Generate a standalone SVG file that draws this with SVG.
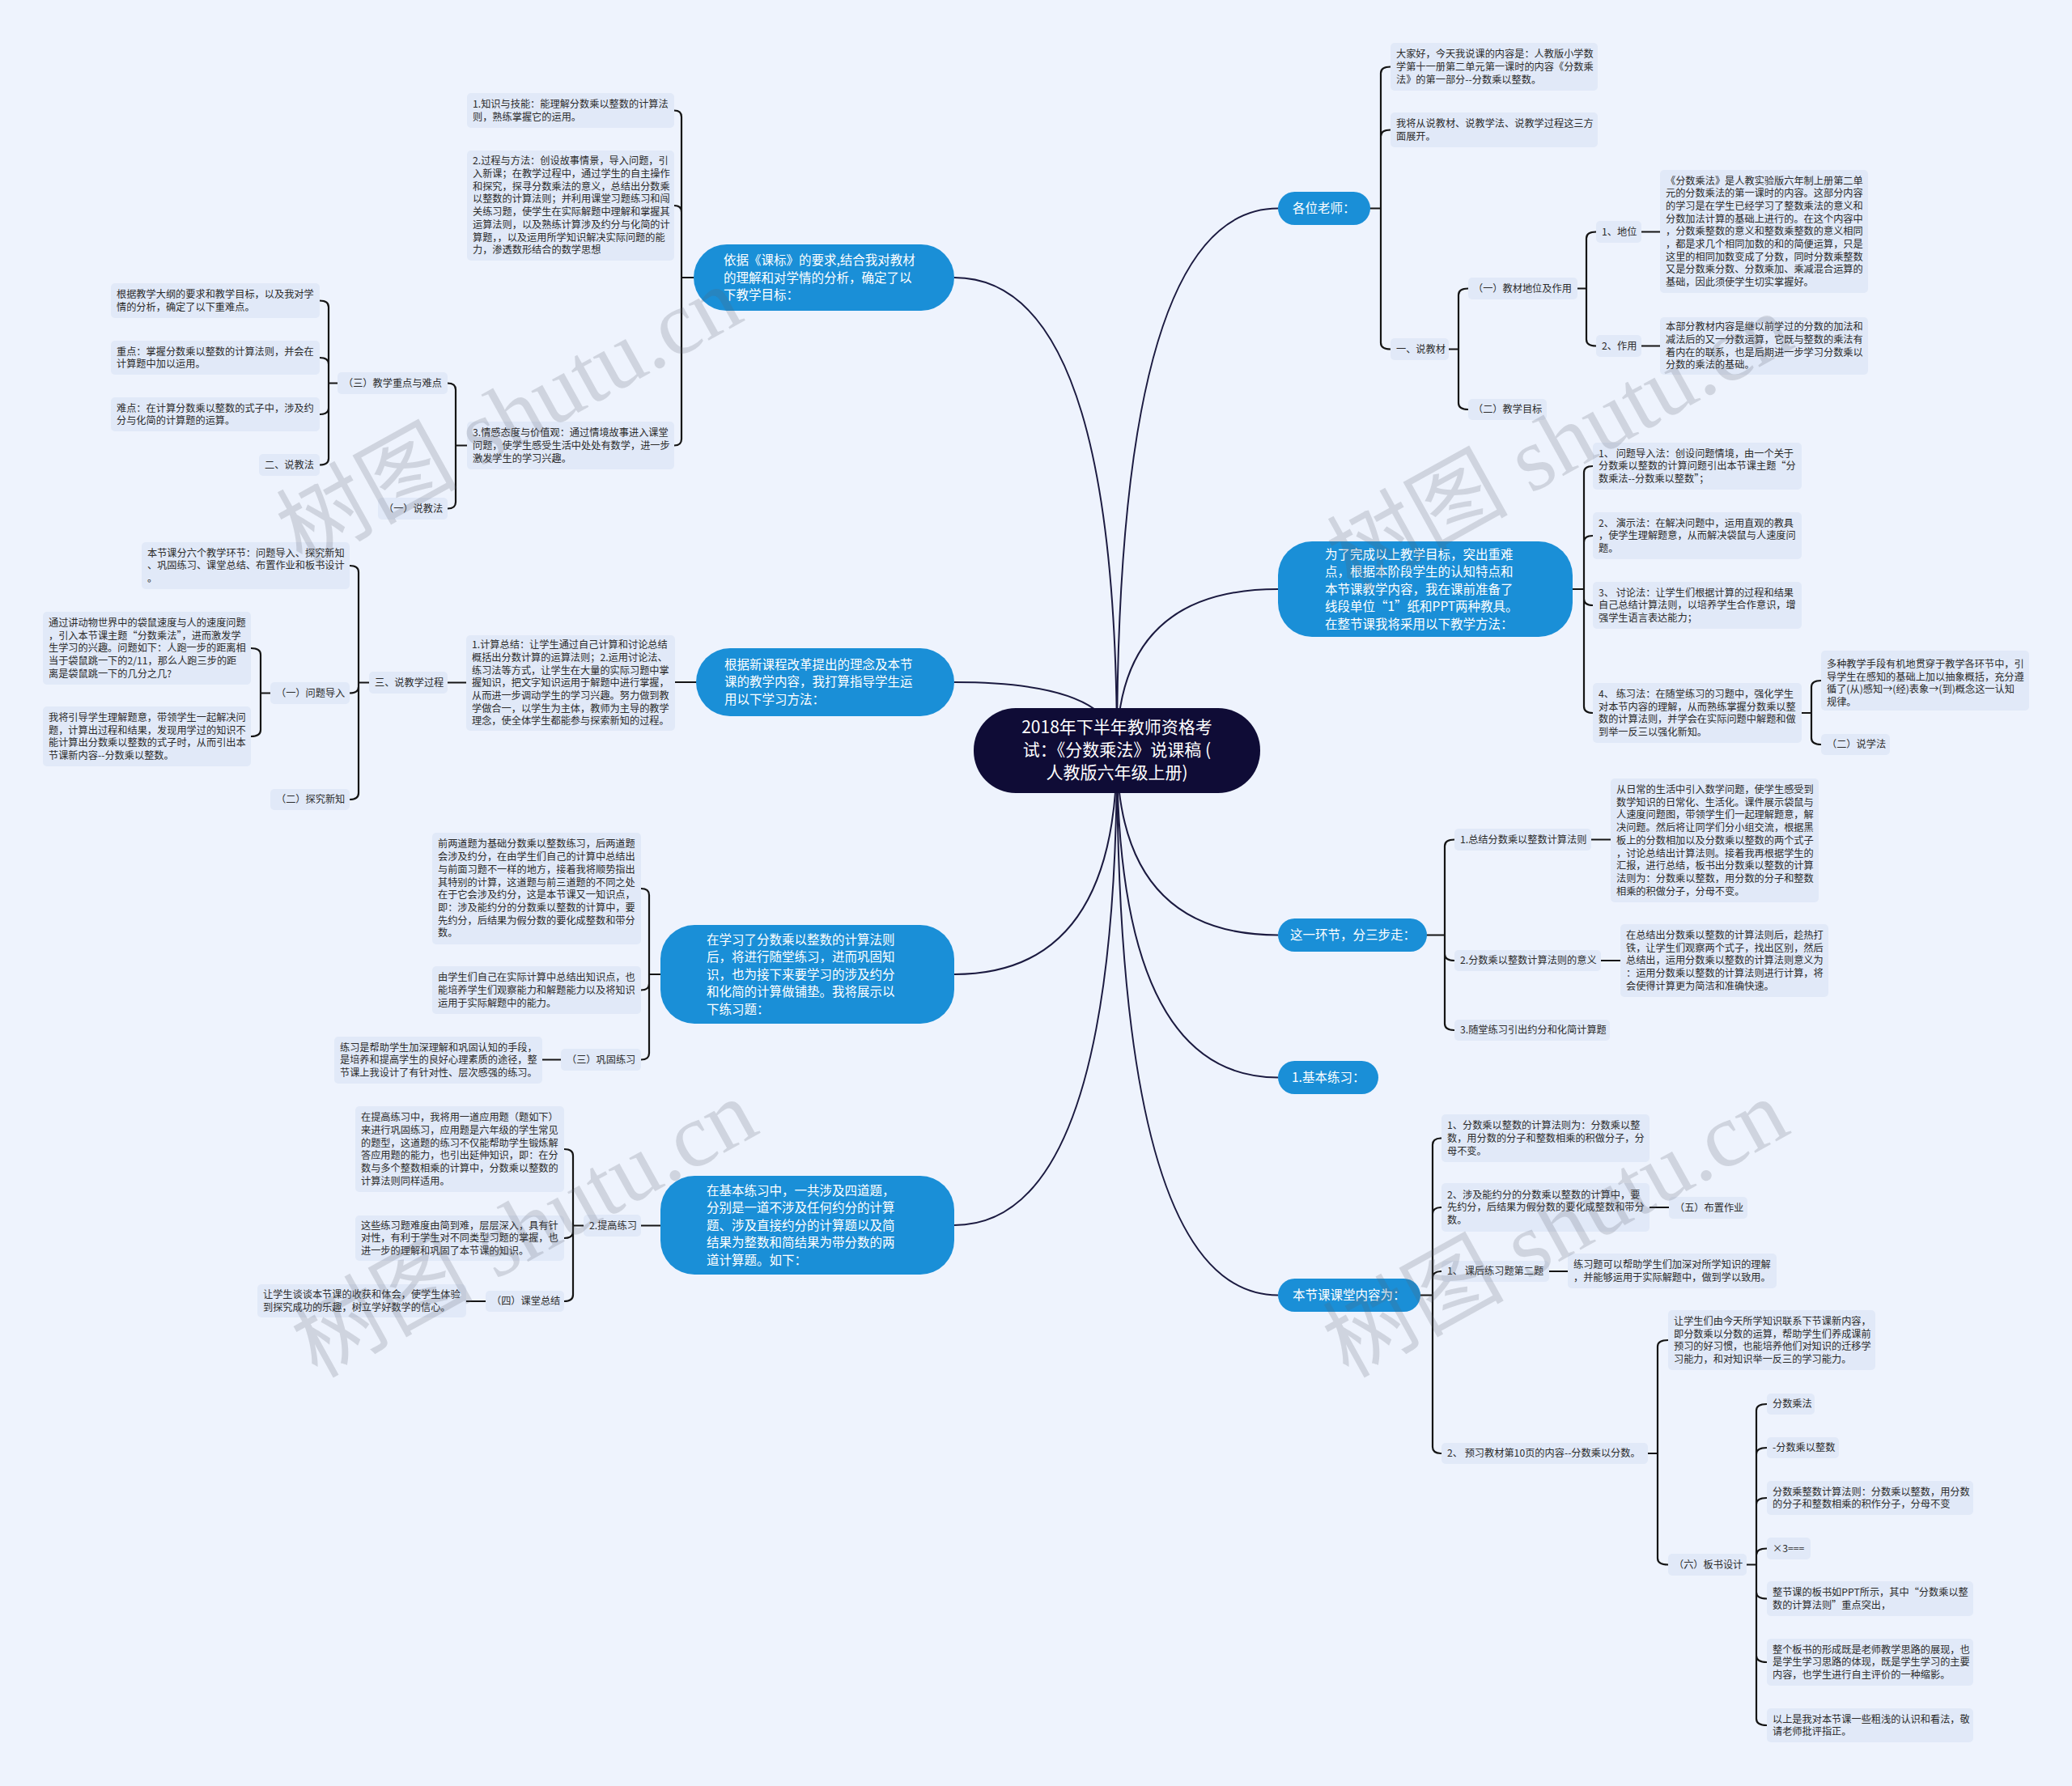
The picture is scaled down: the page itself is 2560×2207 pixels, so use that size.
<svg xmlns="http://www.w3.org/2000/svg" width="2560" height="2207" viewBox="0 0 2560 2207">
<style>
.lf{fill:#e1e9f8}
.t{font-family:"Noto Sans CJK SC","Noto Sans",sans-serif;font-size:12.2px;fill:#2b2b2b}
.bn{fill:#1a8fd7}
.bt{font-family:"Noto Sans CJK SC","Noto Sans",sans-serif;font-size:15.5px;fill:#ffffff}
.br{fill:none;stroke:#151515;stroke-width:2.2;stroke-linecap:round}
.rc{fill:none;stroke:#1b1a40;stroke-width:2}
.wm{font-family:"Liberation Serif","Noto Sans CJK SC",serif;font-size:112px;fill:#5a5f6a;opacity:0.2}
</style>
<rect width="2560" height="2207" fill="#eef3fd"/>

<g id="connectors">
<path class="rc" d="M1380,927 Q1380,343 1179,343"/>
<path class="rc" d="M1380,927 Q1380,843 1179,843"/>
<path class="rc" d="M1380,927 Q1380,1204 1179,1204"/>
<path class="rc" d="M1380,927 Q1380,1514 1179,1514"/>
<path class="rc" d="M1380,927 Q1380,257.5 1579,257.5"/>
<path class="rc" d="M1380,927 Q1380,728 1579,728"/>
<path class="rc" d="M1380,927 Q1380,1155.5 1579,1155.5"/>
<path class="rc" d="M1380,927 Q1380,1331.5 1579,1331.5"/>
<path class="rc" d="M1380,927 Q1380,1600.5 1579,1600.5"/>

<path class="br" d="M833,136.5 Q842,136.5 842,144.5 L842,542.5 Q842,550.5 833,550.5 M842,262 Q842,254 833,254 M842,343 L857,343"/>
<path class="br" d="M553,473.5 Q563,473.5 563,481.5 L563,620.5 Q563,628.5 553,628.5 M563,550.5 L577,550.5"/>
<path class="br" d="M395,371.5 Q406,371.5 406,379.5 L406,566.5 Q406,574.5 395,574.5 M406,450 Q406,442 395,442 M406,504 Q406,512 395,512 M406,473.5 L417,473.5"/>

<path class="br" d="M834,843 L860,843 M553,843.5 L576,843.5"/>
<path class="br" d="M432,699 Q443,699 443,707 L443,980 Q443,988 432,988 M443,848.5 Q443,856.5 432,856.5 M443,843.5 L456,843.5"/>
<path class="br" d="M310,801 Q322,801 322,809 L322,902 Q322,910 310,910 M322,856.5 L334,856.5"/>

<path class="br" d="M792,1098 Q802,1098 802,1106 L802,1301.5 Q802,1309.5 792,1309.5 M802,1215.5 Q802,1223.5 792,1223.5 M802,1204 L816,1204 M670,1309.5 L693,1309.5"/>

<path class="br" d="M792,1514.5 L816,1514.5"/>
<path class="br" d="M697,1420 Q708,1420 708,1428 L708,1600 Q708,1608 697,1608 M708,1522 Q708,1530 697,1530 M708,1514.5 L721,1514.5 M576,1608 L600,1608"/>

<path class="br" d="M1718,82.5 Q1706,82.5 1706,90.5 L1706,423.5 Q1706,431.5 1718,431.5 M1706,168.5 Q1706,160.5 1718,160.5 M1693,257.5 L1706,257.5"/>
<path class="br" d="M1814,356.5 Q1802,356.5 1802,364.5 L1802,498 Q1802,506 1814,506 M1790,431.5 L1802,431.5"/>
<path class="br" d="M1972,286.5 Q1960,286.5 1960,294.5 L1960,419.5 Q1960,427.5 1972,427.5 M1949,356.5 L1960,356.5 M2028,286.5 L2051,286.5 M2028,427.5 L2051,427.5"/>

<path class="br" d="M1968,576 Q1957,576 1957,584 L1957,873 Q1957,881 1968,881 M1957,670 Q1957,662 1968,662 M1957,740 Q1957,748 1968,748 M1943,728 L1957,728"/>
<path class="br" d="M2250,841 Q2238,841 2238,849 L2238,912 Q2238,920 2250,920 M2226,881 L2238,881"/>

<path class="br" d="M1797,1037.5 Q1785,1037.5 1785,1045.5 L1785,1265 Q1785,1273 1797,1273 M1785,1179 Q1785,1187 1797,1187 M1763,1155.5 L1785,1155.5 M1966,1037.5 L1990,1037.5 M1978,1187 L2002,1187"/>

<path class="br" d="M1781,1406.5 Q1770,1406.5 1770,1414.5 L1770,1788 Q1770,1796 1781,1796 M1770,1500 Q1770,1492 1781,1492 M1770,1579 Q1770,1571 1781,1571 M1755,1600.5 L1770,1600.5 M2038,1492 L2062,1492 M1914,1571 L1937,1571"/>
<path class="br" d="M2061,1656 Q2048,1656 2048,1664 L2048,1925.5 Q2048,1933.5 2061,1933.5 M2036,1796 L2048,1796"/>
<path class="br" d="M2183,1735 Q2170,1735 2170,1743 L2170,2124 Q2170,2132 2183,2132 M2170,1797 Q2170,1789 2183,1789 M2170,1859 Q2170,1851 2183,1851 M2170,1921.5 Q2170,1913.5 2183,1913.5 M2170,1967.5 Q2170,1975.5 2183,1975.5 M2170,2046 Q2170,2054 2183,2054 M2158,1933.5 L2170,1933.5"/>
</g>

<g id="root">
<rect x="1203" y="875" width="354" height="105" rx="52" fill="#0f0c36"/>
<text font-family="'Noto Sans CJK SC','Noto Sans',sans-serif" font-size="21" fill="#ffffff" text-anchor="middle"><tspan x="1380" y="906">2018年下半年教师资格考</tspan><tspan x="1380" y="934">试：《分数乘法》说课稿 (</tspan><tspan x="1380" y="962">人教版六年级上册)</tspan></text>
</g>

<g id="L1"><rect class="bn" x="857" y="302" width="322" height="82" rx="41"/><text class="bt"><tspan x="894" y="327">依据《课标》的要求,结合我对教材</tspan><tspan x="894" y="348.5">的理解和对学情的分析，确定了以</tspan><tspan x="894" y="370">下教学目标：</tspan></text></g>
<g id="L2"><rect class="bn" x="860" y="801" width="319" height="84" rx="42"/><text class="bt"><tspan x="895" y="826.5">根据新课程改革提出的理念及本节</tspan><tspan x="895" y="848">课的教学内容，我打算指导学生运</tspan><tspan x="895" y="869.5">用以下学习方法：</tspan></text></g>
<g id="L3"><rect class="bn" x="816" y="1143" width="363" height="122" rx="42"/><text class="bt"><tspan x="873" y="1166.5">在学习了分数乘以整数的计算法则</tspan><tspan x="873" y="1188">后，将进行随堂练习，进而巩固知</tspan><tspan x="873" y="1209.5">识，也为接下来要学习的涉及约分</tspan><tspan x="873" y="1231">和化简的计算做铺垫。我将展示以</tspan><tspan x="873" y="1252.5">下练习题：</tspan></text></g>
<g id="L4"><rect class="bn" x="816" y="1453" width="363" height="122" rx="42"/><text class="bt"><tspan x="873" y="1476.5">在基本练习中，一共涉及四道题，</tspan><tspan x="873" y="1498">分别是一道不涉及任何约分的计算</tspan><tspan x="873" y="1519.5">题、涉及直接约分的计算题以及简</tspan><tspan x="873" y="1541">结果为整数和简结果为带分数的两</tspan><tspan x="873" y="1562.5">道计算题。如下：</tspan></text></g>
<g id="R1"><rect class="bn" x="1579" y="237" width="114" height="41" rx="20.5"/><text class="bt"><tspan x="1597" y="263">各位老师：</tspan></text></g>
<g id="R2"><rect class="bn" x="1579" y="669" width="364" height="118" rx="42"/><text class="bt"><tspan x="1637" y="690.5">为了完成以上教学目标，突出重难</tspan><tspan x="1637" y="712">点，根据本阶段学生的认知特点和</tspan><tspan x="1637" y="733.5">本节课教学内容，我在课前准备了</tspan><tspan x="1637" y="755">线段单位“1”纸和PPT两种教具。</tspan><tspan x="1637" y="776.5">在整节课我将采用以下教学方法：</tspan></text></g>
<g id="R3"><rect class="bn" x="1579" y="1135" width="184" height="41" rx="20.5"/><text class="bt"><tspan x="1594" y="1161">这一环节，分三步走：</tspan></text></g>
<g id="R4"><rect class="bn" x="1579" y="1311" width="124" height="41" rx="20.5"/><text class="bt"><tspan x="1596" y="1337">1.基本练习：</tspan></text></g>
<g id="R5"><rect class="bn" x="1579" y="1580" width="176" height="41" rx="20.5"/><text class="bt"><tspan x="1597" y="1606">本节课课堂内容为：</tspan></text></g>

<g id="n1"><rect class="lf" x="577" y="115" width="256" height="43" rx="5"/><text class="t"><tspan x="584" y="133">1.知识与技能：能理解分数乘以整数的计算法</tspan><tspan x="584" y="148.7">则，熟练掌握它的运用。</tspan></text></g>
<g id="n2"><rect class="lf" x="577" y="186" width="256" height="136" rx="5"/><text class="t"><tspan x="584" y="203.3">2.过程与方法：创设故事情景，导入问题，引</tspan><tspan x="584" y="219">入新课；在教学过程中，通过学生的自主操作</tspan><tspan x="584" y="234.7">和探究，探寻分数乘法的意义，总结出分数乘</tspan><tspan x="584" y="250.4">以整数的计算法则；并利用课堂习题练习和闯</tspan><tspan x="584" y="266.1">关练习题，使学生在实际解题中理解和掌握其</tspan><tspan x="584" y="281.8">运算法则，以及熟练计算涉及约分与化简的计</tspan><tspan x="584" y="297.5">算题，，以及运用所学知识解决实际问题的能</tspan><tspan x="584" y="313.2">力，渗透数形结合的数学思想</tspan></text></g>
<g id="n3"><rect class="lf" x="577" y="521" width="256" height="59" rx="5"/><text class="t"><tspan x="584" y="539.1">3.情感态度与价值观：通过情境故事进入课堂</tspan><tspan x="584" y="554.8">问题，使学生感受生活中处处有数学，进一步</tspan><tspan x="584" y="570.5">激发学生的学习兴趣。</tspan></text></g>
<g id="n4"><rect class="lf" x="417" y="460" width="136" height="27" rx="5"/><text class="t"><tspan x="424" y="477.8">（三）教学重点与难点</tspan></text></g>
<g id="n5"><rect class="lf" x="467" y="615" width="86" height="27" rx="5"/><text class="t"><tspan x="474" y="632.8">（一）说教法</tspan></text></g>
<g id="n6"><rect class="lf" x="137" y="350" width="258" height="43" rx="5"/><text class="t"><tspan x="144" y="368">根据教学大纲的要求和教学目标，以及我对学</tspan><tspan x="144" y="383.7">情的分析，确定了以下重难点。</tspan></text></g>
<g id="n7"><rect class="lf" x="137" y="421" width="258" height="42" rx="5"/><text class="t"><tspan x="144" y="438.5">重点：掌握分数乘以整数的计算法则，并会在</tspan><tspan x="144" y="454.2">计算题中加以运用。</tspan></text></g>
<g id="n8"><rect class="lf" x="137" y="491" width="258" height="42" rx="5"/><text class="t"><tspan x="144" y="508.5">难点：在计算分数乘以整数的式子中，涉及约</tspan><tspan x="144" y="524.2">分与化简的计算题的运算。</tspan></text></g>
<g id="n9"><rect class="lf" x="320" y="561" width="75" height="27" rx="5"/><text class="t"><tspan x="327" y="578.8">二、说教法</tspan></text></g>

<g id="n10"><rect class="lf" x="576" y="785" width="258" height="118" rx="5"/><text class="t"><tspan x="583" y="801.2">1.计算总结：让学生通过自己计算和讨论总结</tspan><tspan x="583" y="816.9">概括出分数计算的运算法则；2.运用讨论法、</tspan><tspan x="583" y="832.6">练习法等方式，让学生在大量的实际习题中掌</tspan><tspan x="583" y="848.3">握知识，把文字知识运用于解题中进行掌握，</tspan><tspan x="583" y="864">从而进一步调动学生的学习兴趣。努力做到教</tspan><tspan x="583" y="879.7">学做合一，以学生为主体，教师为主导的教学</tspan><tspan x="583" y="895.4">理念，使全体学生都能参与探索新知的过程。</tspan></text></g>
<g id="n11"><rect class="lf" x="456" y="830" width="97" height="27" rx="5"/><text class="t"><tspan x="463" y="847.8">三、说教学过程</tspan></text></g>
<g id="n12"><rect class="lf" x="175" y="670" width="257" height="58" rx="5"/><text class="t"><tspan x="182" y="687.6">本节课分六个教学环节：问题导入、探究新知</tspan><tspan x="182" y="703.3">、巩固练习、课堂总结、布置作业和板书设计</tspan><tspan x="182" y="719">。</tspan></text></g>
<g id="n13"><rect class="lf" x="334" y="843" width="98" height="27" rx="5"/><text class="t"><tspan x="341" y="860.8">（一）问题导入</tspan></text></g>
<g id="n14"><rect class="lf" x="334" y="975" width="98" height="26" rx="5"/><text class="t"><tspan x="341" y="992.3">（二）探究新知</tspan></text></g>
<g id="n15"><rect class="lf" x="53" y="756" width="257" height="90" rx="5"/><text class="t"><tspan x="60" y="773.9">通过讲动物世界中的袋鼠速度与人的速度问题</tspan><tspan x="60" y="789.6">，引入本节课主题“分数乘法”，进而激发学</tspan><tspan x="60" y="805.3">生学习的兴趣。问题如下：人跑一步的距离相</tspan><tspan x="60" y="821">当于袋鼠跳一下的2/11，那么人跑三步的距</tspan><tspan x="60" y="836.7">离是袋鼠跳一下的几分之几?</tspan></text></g>
<g id="n16"><rect class="lf" x="53" y="873" width="257" height="74" rx="5"/><text class="t"><tspan x="60" y="890.8">我将引导学生理解题意，带领学生一起解决问</tspan><tspan x="60" y="906.5">题，计算出过程和结果，发现用学过的知识不</tspan><tspan x="60" y="922.2">能计算出分数乘以整数的式子时，从而引出本</tspan><tspan x="60" y="937.9">节课新内容--分数乘以整数。</tspan></text></g>

<g id="n17"><rect class="lf" x="534" y="1029" width="258" height="138" rx="5"/><text class="t"><tspan x="541" y="1047.4">前两道题为基础分数乘以整数练习，后两道题</tspan><tspan x="541" y="1063.1">会涉及约分，在由学生们自己的计算中总结出</tspan><tspan x="541" y="1078.8">与前面习题不一样的地方，接着我将顺势指出</tspan><tspan x="541" y="1094.5">其特别的计算，这道题与前三道题的不同之处</tspan><tspan x="541" y="1110.2">在于它会涉及约分，这是本节课又一知识点，</tspan><tspan x="541" y="1125.9">即：涉及能约分的分数乘以整数的计算中，要</tspan><tspan x="541" y="1141.6">先约分，后结果为假分数的要化成整数和带分</tspan><tspan x="541" y="1157.3">数。</tspan></text></g>
<g id="n18"><rect class="lf" x="534" y="1194" width="258" height="59" rx="5"/><text class="t"><tspan x="541" y="1212.1">由学生们自己在实际计算中总结出知识点，也</tspan><tspan x="541" y="1227.8">能培养学生们观察能力和解题能力以及将知识</tspan><tspan x="541" y="1243.5">运用于实际解题中的能力。</tspan></text></g>
<g id="n19"><rect class="lf" x="693" y="1296" width="99" height="27" rx="5"/><text class="t"><tspan x="700" y="1313.8">（三）巩固练习</tspan></text></g>
<g id="n20"><rect class="lf" x="413" y="1281" width="257" height="58" rx="5"/><text class="t"><tspan x="420" y="1298.6">练习是帮助学生加深理解和巩固认知的手段，</tspan><tspan x="420" y="1314.3">是培养和提高学生的良好心理素质的途径，整</tspan><tspan x="420" y="1330">节课上我设计了有针对性、层次感强的练习。</tspan></text></g>

<g id="n21"><rect class="lf" x="721" y="1501" width="71" height="27" rx="5"/><text class="t"><tspan x="728" y="1518.8">2.提高练习</tspan></text></g>
<g id="n22"><rect class="lf" x="439" y="1367" width="258" height="106" rx="5"/><text class="t"><tspan x="446" y="1385.1">在提高练习中，我将用一道应用题（题如下）</tspan><tspan x="446" y="1400.8">来进行巩固练习，应用题是六年级的学生常见</tspan><tspan x="446" y="1416.5">的题型，这道题的练习不仅能帮助学生锻炼解</tspan><tspan x="446" y="1432.2">答应用题的能力，也引出延伸知识，即：在分</tspan><tspan x="446" y="1447.9">数与多个整数相乘的计算中，分数乘以整数的</tspan><tspan x="446" y="1463.6">计算法则同样适用。</tspan></text></g>
<g id="n23"><rect class="lf" x="439" y="1502" width="258" height="56" rx="5"/><text class="t"><tspan x="446" y="1518.6">这些练习题难度由简到难，层层深入，具有针</tspan><tspan x="446" y="1534.3">对性，有利于学生对不同类型习题的掌握，也</tspan><tspan x="446" y="1550">进一步的理解和巩固了本节课的知识。</tspan></text></g>
<g id="n24"><rect class="lf" x="600" y="1595" width="97" height="26" rx="5"/><text class="t"><tspan x="607" y="1612.3">（四）课堂总结</tspan></text></g>
<g id="n25"><rect class="lf" x="318" y="1587" width="258" height="41" rx="5"/><text class="t"><tspan x="325" y="1604">让学生谈谈本节课的收获和体会，使学生体验</tspan><tspan x="325" y="1619.7">到探究成功的乐趣，树立学好数学的信心。</tspan></text></g>

<g id="n26"><rect class="lf" x="1718" y="53" width="256" height="59" rx="5"/><text class="t"><tspan x="1725" y="71.1">大家好，今天我说课的内容是：人教版小学数</tspan><tspan x="1725" y="86.8">学第十一册第二单元第一课时的内容《分数乘</tspan><tspan x="1725" y="102.5">法》的第一部分--分数乘以整数。</tspan></text></g>
<g id="n27"><rect class="lf" x="1718" y="139" width="256" height="43" rx="5"/><text class="t"><tspan x="1725" y="157">我将从说教材、说教学法、说教学过程这三方</tspan><tspan x="1725" y="172.7">面展开。</tspan></text></g>
<g id="n28"><rect class="lf" x="1718" y="418" width="72" height="27" rx="5"/><text class="t"><tspan x="1725" y="435.8">一、说教材</tspan></text></g>
<g id="n29"><rect class="lf" x="1814" y="343" width="135" height="27" rx="5"/><text class="t"><tspan x="1820" y="360.8">（一）教材地位及作用</tspan></text></g>
<g id="n30"><rect class="lf" x="1814" y="493" width="97" height="26" rx="5"/><text class="t"><tspan x="1820" y="510.3">（二）教学目标</tspan></text></g>
<g id="n31"><rect class="lf" x="1972" y="273" width="56" height="27" rx="5"/><text class="t"><tspan x="1979" y="290.8">1、地位</tspan></text></g>
<g id="n32"><rect class="lf" x="1972" y="414" width="56" height="27" rx="5"/><text class="t"><tspan x="1979" y="431.8">2、作用</tspan></text></g>
<g id="n33"><rect class="lf" x="2051" y="210" width="257" height="152" rx="5"/><text class="t"><tspan x="2058" y="227.5">《分数乘法》是人教实验版六年制上册第二单</tspan><tspan x="2058" y="243.2">元的分数乘法的第一课时的内容。这部分内容</tspan><tspan x="2058" y="258.9">的学习是在学生已经学习了整数乘法的意义和</tspan><tspan x="2058" y="274.6">分数加法计算的基础上进行的。在这个内容中</tspan><tspan x="2058" y="290.3">，分数乘整数的意义和整数乘整数的意义相同</tspan><tspan x="2058" y="306">，都是求几个相同加数的和的简便运算，只是</tspan><tspan x="2058" y="321.7">这里的相同加数变成了分数，同时分数乘整数</tspan><tspan x="2058" y="337.4">又是分数乘分数、分数乘加、乘减混合运算的</tspan><tspan x="2058" y="353.1">基础，因此须使学生切实掌握好。</tspan></text></g>
<g id="n34"><rect class="lf" x="2051" y="392" width="257" height="71" rx="5"/><text class="t"><tspan x="2058" y="408.3">本部分教材内容是继以前学过的分数的加法和</tspan><tspan x="2058" y="424">减法后的又一分数运算，它既与整数的乘法有</tspan><tspan x="2058" y="439.7">着内在的联系，也是后期进一步学习分数乘以</tspan><tspan x="2058" y="455.4">分数的乘法的基础。</tspan></text></g>

<g id="n35"><rect class="lf" x="1968" y="547" width="258" height="58" rx="5"/><text class="t"><tspan x="1975" y="564.6">1、 问题导入法：创设问题情境，由一个关于</tspan><tspan x="1975" y="580.3">分数乘以整数的计算问题引出本节课主题“分</tspan><tspan x="1975" y="596">数乘法--分数乘以整数”；</tspan></text></g>
<g id="n36"><rect class="lf" x="1968" y="633" width="258" height="58" rx="5"/><text class="t"><tspan x="1975" y="650.6">2、 演示法：在解决问题中，运用直观的教具</tspan><tspan x="1975" y="666.3">，使学生理解题意，从而解决袋鼠与人速度问</tspan><tspan x="1975" y="682">题。</tspan></text></g>
<g id="n37"><rect class="lf" x="1968" y="719" width="258" height="58" rx="5"/><text class="t"><tspan x="1975" y="736.6">3、 讨论法：让学生们根据计算的过程和结果</tspan><tspan x="1975" y="752.3">自己总结计算法则，以培养学生合作意识，增</tspan><tspan x="1975" y="768">强学生语言表达能力；</tspan></text></g>
<g id="n38"><rect class="lf" x="1968" y="844" width="258" height="74" rx="5"/><text class="t"><tspan x="1975" y="861.8">4、 练习法：在随堂练习的习题中，强化学生</tspan><tspan x="1975" y="877.5">对本节内容的理解，从而熟练掌握分数乘以整</tspan><tspan x="1975" y="893.2">数的计算法则，并学会在实际问题中解题和做</tspan><tspan x="1975" y="908.9">到举一反三以强化新知。</tspan></text></g>
<g id="n39"><rect class="lf" x="2250" y="804" width="257" height="74" rx="5"/><text class="t"><tspan x="2257" y="824.8">多种教学手段有机地贯穿于教学各环节中，引</tspan><tspan x="2257" y="840.5">导学生在感知的基础上加以抽象概括，充分遵</tspan><tspan x="2257" y="856.2">循了(从)感知→(经)表象→(到)概念这一认知</tspan><tspan x="2257" y="871.9">规律。</tspan></text></g>
<g id="n40"><rect class="lf" x="2250" y="907" width="85" height="26" rx="5"/><text class="t"><tspan x="2257" y="924.3">（二）说学法</tspan></text></g>

<g id="n41"><rect class="lf" x="1797" y="1024" width="169" height="27" rx="5"/><text class="t"><tspan x="1804" y="1041.8">1.总结分数乘以整数计算法则</tspan></text></g>
<g id="n42"><rect class="lf" x="1990" y="962" width="257" height="153" rx="5"/><text class="t"><tspan x="1997" y="980">从日常的生活中引入数学问题，使学生感受到</tspan><tspan x="1997" y="995.7">数学知识的日常化、生活化。课件展示袋鼠与</tspan><tspan x="1997" y="1011.4">人速度问题图，带领学生们一起理解题意，解</tspan><tspan x="1997" y="1027.1">决问题。然后将让同学们分小组交流，根据黑</tspan><tspan x="1997" y="1042.8">板上的分数相加以及分数乘以整数的两个式子</tspan><tspan x="1997" y="1058.5">，讨论总结出计算法则。接着我再根据学生的</tspan><tspan x="1997" y="1074.2">汇报，进行总结，板书出分数乘以整数的计算</tspan><tspan x="1997" y="1089.9">法则为：分数乘以整数，用分数的分子和整数</tspan><tspan x="1997" y="1105.6">相乘的积做分子，分母不变。</tspan></text></g>
<g id="n43"><rect class="lf" x="1797" y="1174" width="181" height="26" rx="5"/><text class="t"><tspan x="1804" y="1191.3">2.分数乘以整数计算法则的意义</tspan></text></g>
<g id="n44"><rect class="lf" x="2002" y="1142" width="257" height="90" rx="5"/><text class="t"><tspan x="2009" y="1159.9">在总结出分数乘以整数的计算法则后，趁热打</tspan><tspan x="2009" y="1175.6">铁，让学生们观察两个式子，找出区别，然后</tspan><tspan x="2009" y="1191.3">总结出，运用分数乘以整数的计算法则意义为</tspan><tspan x="2009" y="1207">：运用分数乘以整数的计算法则进行计算，将</tspan><tspan x="2009" y="1222.7">会使得计算更为简洁和准确快速。</tspan></text></g>
<g id="n45"><rect class="lf" x="1797" y="1260" width="192" height="26" rx="5"/><text class="t"><tspan x="1804" y="1277.3">3.随堂练习引出约分和化简计算题</tspan></text></g>

<g id="n46"><rect class="lf" x="1781" y="1377" width="257" height="59" rx="5"/><text class="t"><tspan x="1788" y="1395.1">1、分数乘以整数的计算法则为：分数乘以整</tspan><tspan x="1788" y="1410.8">数，用分数的分子和整数相乘的积做分子，分</tspan><tspan x="1788" y="1426.5">母不变。</tspan></text></g>
<g id="n47"><rect class="lf" x="1781" y="1462" width="257" height="60" rx="5"/><text class="t"><tspan x="1788" y="1480.6">2、涉及能约分的分数乘以整数的计算中，要</tspan><tspan x="1788" y="1496.3">先约分，后结果为假分数的要化成整数和带分</tspan><tspan x="1788" y="1512">数。</tspan></text></g>
<g id="n48"><rect class="lf" x="2062" y="1479" width="97" height="27" rx="5"/><text class="t"><tspan x="2069" y="1496.8">（五）布置作业</tspan></text></g>
<g id="n49"><rect class="lf" x="1781" y="1558" width="133" height="26" rx="5"/><text class="t"><tspan x="1788" y="1575.3">1、 课后练习题第二题</tspan></text></g>
<g id="n50"><rect class="lf" x="1937" y="1549" width="258" height="43" rx="5"/><text class="t"><tspan x="1944" y="1567">练习题可以帮助学生们加深对所学知识的理解</tspan><tspan x="1944" y="1582.7">，并能够运用于实际解题中，做到学以致用。</tspan></text></g>
<g id="n51"><rect class="lf" x="1781" y="1783" width="255" height="26" rx="5"/><text class="t"><tspan x="1788" y="1800.3">2、 预习教材第10页的内容--分数乘以分数。</tspan></text></g>
<g id="n52"><rect class="lf" x="2061" y="1619" width="256" height="74" rx="5"/><text class="t"><tspan x="2068" y="1636.8">让学生们由今天所学知识联系下节课新内容，</tspan><tspan x="2068" y="1652.5">即分数乘以分数的运算，帮助学生们养成课前</tspan><tspan x="2068" y="1668.2">预习的好习惯，也能培养他们对知识的迁移学</tspan><tspan x="2068" y="1683.9">习能力，和对知识举一反三的学习能力。</tspan></text></g>
<g id="n53"><rect class="lf" x="2061" y="1920" width="97" height="27" rx="5"/><text class="t"><tspan x="2068" y="1937.8">（六）板书设计</tspan></text></g>
<g id="n54"><rect class="lf" x="2183" y="1722" width="59" height="26" rx="5"/><text class="t"><tspan x="2190" y="1739.3">分数乘法</tspan></text></g>
<g id="n55"><rect class="lf" x="2183" y="1776" width="89" height="26" rx="5"/><text class="t"><tspan x="2190" y="1793.3">-分数乘以整数</tspan></text></g>
<g id="n56"><rect class="lf" x="2183" y="1830" width="255" height="42" rx="5"/><text class="t"><tspan x="2190" y="1847.5">分数乘整数计算法则：分数乘以整数，用分数</tspan><tspan x="2190" y="1863.2">的分子和整数相乘的积作分子，分母不变</tspan></text></g>
<g id="n57"><rect class="lf" x="2183" y="1900" width="54" height="27" rx="5"/><text class="t"><tspan x="2190" y="1917.8">×3===</tspan></text></g>
<g id="n58"><rect class="lf" x="2183" y="1954" width="255" height="43" rx="5"/><text class="t"><tspan x="2190" y="1972">整节课的板书如PPT所示，其中“分数乘以整</tspan><tspan x="2190" y="1987.7">数的计算法则”重点突出，</tspan></text></g>
<g id="n59"><rect class="lf" x="2183" y="2025" width="255" height="58" rx="5"/><text class="t"><tspan x="2190" y="2042.6">整个板书的形成既是老师教学思路的展现，也</tspan><tspan x="2190" y="2058.3">是学生学习思路的体现，既是学生学习的主要</tspan><tspan x="2190" y="2074">内容，也学生进行自主评价的一种缩影。</tspan></text></g>
<g id="n60"><rect class="lf" x="2183" y="2111" width="255" height="42" rx="5"/><text class="t"><tspan x="2190" y="2128.5">以上是我对本节课一些粗浅的认识和看法，敬</tspan><tspan x="2190" y="2144.2">请老师批评指正。</tspan></text></g>

<g id="watermarks">
<text class="wm" text-anchor="middle" x="629" y="552" transform="rotate(-29 629 514)">树图 shutu.cn</text>
<text class="wm" text-anchor="middle" x="1927" y="585" transform="rotate(-29 1927 547)">树图 shutu.cn</text>
<text class="wm" text-anchor="middle" x="648" y="1556" transform="rotate(-29 648 1518)">树图 shutu.cn</text>
<text class="wm" text-anchor="middle" x="1922" y="1556" transform="rotate(-29 1922 1518)">树图 shutu.cn</text>
</g>
</svg>
